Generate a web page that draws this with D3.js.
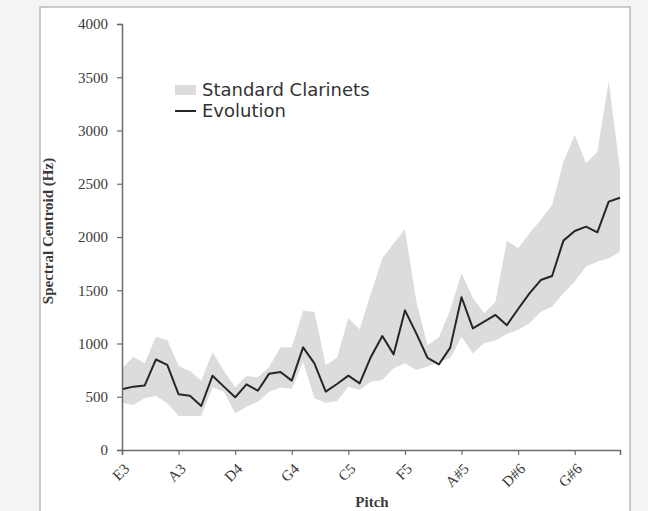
<!DOCTYPE html>
<html>
<head>
<meta charset="utf-8">
<script src="https://cdn.jsdelivr.net/npm/d3@7"></script>
<style>
  body { margin: 0; background: #f4f4f4; }
  svg { display: block; }
</style>
</head>
<body>
<svg id="chart" width="648" height="511"></svg>
<script>
// pitches E3 .. C7, one point per semitone
const pitches = ["E3","F3","F#3","G3","G#3","A3","A#3","B3","C4","C#4","D4","D#4","E4","F4","F#4","G4","G#4","A4","A#4","B4",
  "C5","C#5","D5","D#5","E5","F5","F#5","G5","G#5","A5","A#5","B5","C6","C#6","D6","D#6","E6","F6","F#6","G6","G#6","A6","A#6","B6","C7"];
const tickLabels = ["E3","A3","D4","G4","C5","F5","A#5","D#6","G#6"];

const evolution = [570,595,605,850,800,523,510,413,698,595,495,617,557,717,732,651,964,814,548,620,
  698,626,876,1070,898,1311,1095,864,804,961,1434,1142,1205,1268,1171,1324,1471,1596,1634,1966,2056,2097,2044,2332,2369];
const clarinetHigh = [765,876,814,1064,1033,789,742,650,917,745,588,698,680,780,964,964,1308,1299,795,867,
  1236,1133,1471,1800,1940,2072,1400,983,1058,1315,1660,1430,1283,1393,1966,1894,2035,2160,2300,2707,2958,2692,2801,3465,2630];
const clarinetLow = [444,423,485,510,438,319,319,319,588,548,344,407,454,548,588,576,829,485,444,460,
  595,563,642,657,767,814,751,783,829,861,1064,908,1002,1027,1089,1127,1189,1299,1346,1471,1581,1722,1768,1800,1862];
const yTicks = [0,500,1000,1500,2000,2500,3000,3500,4000];

const svg = d3.select("#chart");

// white panel
svg.append("rect")
  .attr("x", 40).attr("y", 7)
  .attr("width", 590).attr("height", 520)
  .attr("fill", "white")
  .attr("stroke", "#9a9a9a")
  .attr("stroke-width", 1);

const x = d3.scalePoint().domain(pitches).range([122, 620]);
const y = d3.scaleLinear().domain([0, 4000]).range([450, 24]);

// band of standard clarinets
const band = d3.area()
  .x((d, i) => x(pitches[i]))
  .y0((d, i) => y(clarinetLow[i]))
  .y1(d => y(d));

svg.append("path")
  .datum(clarinetHigh)
  .attr("d", band)
  .attr("fill", "#dcdcdc");

// evolution line
const line = d3.line()
  .x((d, i) => x(pitches[i]))
  .y(d => y(d));

svg.append("path")
  .datum(evolution)
  .attr("d", line)
  .attr("fill", "none")
  .attr("stroke", "#262626")
  .attr("stroke-width", 2)
  .attr("stroke-linejoin", "round");

// y axis
const yAxis = svg.append("g")
  .attr("transform", "translate(122,0)")
  .call(d3.axisLeft(y).tickValues(yTicks).tickSize(5).tickPadding(9).tickFormat(d3.format("d")));

// x axis
const xAxis = svg.append("g")
  .attr("transform", "translate(0,450)")
  .call(d3.axisBottom(x).tickValues(tickLabels).tickSize(5).tickPadding(4));

[yAxis, xAxis].forEach(ax => {
  ax.attr("font-family", "Liberation Serif, serif").attr("font-size", 15);
  ax.select(".domain").attr("stroke", "#6b6b6b").attr("stroke-width", 1.5);
  ax.selectAll(".tick line").attr("stroke", "#6b6b6b").attr("stroke-width", 1.2);
  ax.selectAll("text").attr("fill", "#3a3a3a");
});

xAxis.selectAll(".tick text")
  .attr("text-anchor", "end")
  .attr("dy", "0.35em")
  .attr("transform", "translate(4,16) rotate(-45)")
  .attr("y", 0);

// axis titles
svg.append("text")
  .attr("transform", "translate(53,231) rotate(-90)")
  .attr("text-anchor", "middle")
  .attr("font-family", "Liberation Serif, serif")
  .attr("font-weight", "bold")
  .attr("font-size", 15)
  .attr("fill", "#3a3a3a")
  .text("Spectral Centroid (Hz)");

svg.append("text")
  .attr("x", 372).attr("y", 507)
  .attr("text-anchor", "middle")
  .attr("font-family", "Liberation Serif, serif")
  .attr("font-weight", "bold")
  .attr("font-size", 15)
  .attr("fill", "#3a3a3a")
  .text("Pitch");

// legend
const legend = svg.append("g").attr("transform", "translate(175,0)");
legend.append("rect")
  .attr("x", 0).attr("y", 85)
  .attr("width", 21).attr("height", 10)
  .attr("fill", "#dcdcdc");
legend.append("line")
  .attr("x1", 0).attr("x2", 21)
  .attr("y1", 111).attr("y2", 111)
  .attr("stroke", "#262626").attr("stroke-width", 2);
legend.selectAll("text.lg")
  .data(["Standard Clarinets", "Evolution"])
  .enter().append("text")
  .attr("class", "lg")
  .attr("x", 27)
  .attr("y", (d, i) => 96 + i * 21)
  .attr("font-family", "DejaVu Sans, sans-serif")
  .attr("font-size", 18)
  .attr("fill", "#333")
  .text(d => d);
</script>
</body>
</html>
